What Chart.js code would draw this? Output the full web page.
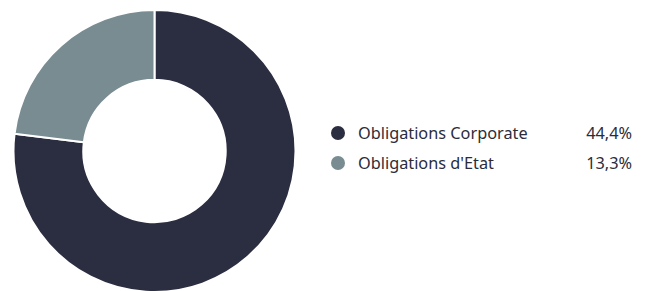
<!DOCTYPE html>
<html>
<head>
<meta charset="utf-8">
<script src="https://cdn.jsdelivr.net/npm/chart.js@4"></script>
<style>
  html, body { margin: 0; padding: 0; background: #fff; }
  body { width: 646px; height: 291px; position: relative; overflow: hidden; font-family: "Noto Sans", sans-serif; }
  #chartBox { position: absolute; left: -1px; top: 0; width: 311px; height: 293px; }
  #legend { position: absolute; left: 331px; top: 118px; width: 301px; }
  .row { display: flex; align-items: center; height: 30px; font-size: 16.3px; color: #2a2c3c; }
  .dot { width: 14px; height: 14px; border-radius: 50%; margin-right: 13px; flex: none; }
  .name { flex: 1; }
  .val { text-align: right; }
</style>
</head>
<body>
<div id="chartBox"><canvas id="donut"></canvas></div>
<div id="legend"></div>
<script>
const labels = ['Obligations Corporate', "Obligations d'Etat"];
const values = [44.4, 13.3];
const colors = ['#2b2d40', '#788c92'];

const fmt = v => v.toFixed(1).replace('.', ',') + '%';

new Chart(document.getElementById('donut'), {
  type: 'doughnut',
  data: {
    labels: labels,
    datasets: [{
      data: values,
      backgroundColor: colors,
      borderColor: '#ffffff',
      borderWidth: 2
    }]
  },
  options: {
    responsive: true,
    maintainAspectRatio: false,
    animation: false,
    cutout: '50.5%',
    layout: { padding: { top: 9, bottom: 0 } },
    plugins: {
      legend: { display: false },
      tooltip: { enabled: false }
    }
  }
});

const legend = document.getElementById('legend');
labels.forEach((name, i) => {
  const row = document.createElement('div');
  row.className = 'row';
  row.innerHTML = '<span class="dot" style="background:' + colors[i] + '"></span>' +
    '<span class="name">' + name + '</span><span class="val">' + fmt(values[i]) + '</span>';
  legend.appendChild(row);
});
</script>
</body>
</html>
